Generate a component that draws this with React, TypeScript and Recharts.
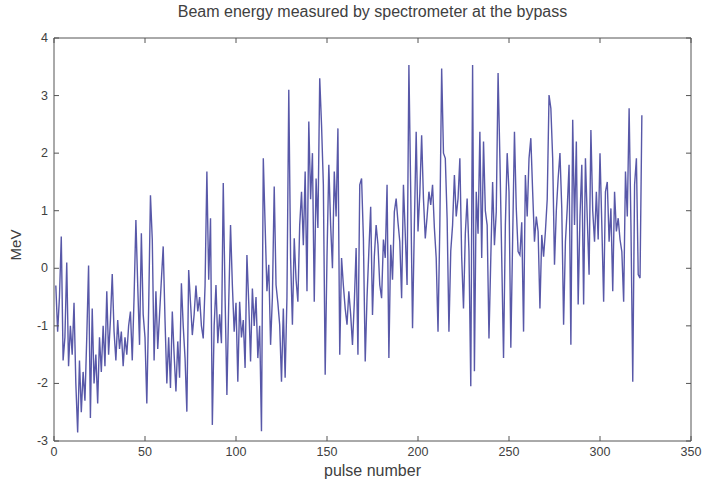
import React from 'react';
import { LineChart, Line, XAxis, YAxis, ReferenceArea } from 'recharts';

const energy: number[] = [
  -0.3, -1.1, -0.5, 0.55, -1.6, -1.2, 0.1, -1.7, -1.0, -1.5,
  -0.6, -2.0, -2.85, -1.6, -2.5, -1.8, -2.3, -1.2, 0.05, -2.6,
  -0.7, -2.0, -1.5, -2.35, -1.2, -1.8, -1.0, -1.7, -0.4, -1.5,
  -0.9, -0.1, -1.1, -1.6, -0.9, -1.4, -1.1, -1.7, -1.2, -1.5,
  -1.0, -0.75, -1.6, -0.5, 0.84, -0.3, -1.33, 0.61, -0.8, -1.2,
  -2.35, -0.7,
  1.27, 0.5, -1.6, -0.4, -1.4, -0.8, -0.2, 0.38, -0.9, -2.0,
  -1.2, -2.08, -0.75, -1.5, -2.14, -1.27, -1.9, -0.26, -1.0, -1.56,
  -2.49, -0.03, -0.6, -1.16, -0.8, -0.3, -0.75, -0.5, -1.0, -1.22,
  -0.3, 1.68, -0.2, 0.87, -2.72, -1.0, -0.29, -1.3, -0.8, -1.3,
  1.48, -0.5, -2.2, -0.6, 0.75, -0.29, -1.1, -0.6,
  -1.97, -0.58, -1.2, -0.9, -1.73, 0.23, -0.6, -1.62, -0.35, -1.0,
  -0.5, -1.56, -1.0, -2.83, 1.91, 0.75, -0.4, 0.06, -1.33, -0.5,
  1.42, -0.29, -0.6, -0.98, -1.97, -0.7, -1.9, -0.5, 3.1, 0.18,
  -0.98, 0.52, -0.2, -0.58, 0.75, 1.33, 0.4, 1.68, -0.4, 2.55,
  1.2, 2.0, -0.58, 1.56, 0.7, 3.3, 2.49, 1.45, -1.85, 0.2,
  1.8, 0.75, 0.0, 1.68, 0.9, 2.43, -1.5, 0.18, -0.3, -0.7,
  -0.98, -0.4, -0.8, -1.33, -0.6, 0.35, -1.5, 1.45, 1.56, 0.52,
  -1.62, -0.5, 0.3, 1.07, -0.81, 0.2, 0.75, 0.41, -0.29, -0.52,
  0.5, 0.18,
  1.45, -1.56, 0.41, -0.2, 0.98, 1.21, 0.8, 0.46, -0.52, 1.45,
  0.6, -0.29, 3.53, 1.33, -1.04, 0.75, 2.37, 0.64, 1.3, 2.31,
  1.21, 0.52, 0.9, 1.33, 1.1, 1.45, 0.7, 0.18, -1.1, 0.75,
  3.47, 2.0, 1.91, 0.87, -1.1, 0.3, 0.75, 1.62, 0.9, 1.21,
  1.91, 0.2, -0.7, 0.6, 1.21, 0.3, -2.05, 3.53,
  -1.79, 1.33, 0.6, 2.37, 0.18, 2.2, 1.0, 0.75, -1.22, 0.18,
  1.5, 0.4, 0.98, 3.39, 1.91, 0.18, -1.56, 0.75, 2.0, 1.33,
  -1.38, 0.5, 2.37, 1.04, 0.29, 0.23, 0.8, -1.1, 1.62, 0.9,
  1.91, 2.26, 1.33, 0.46, 0.9, 0.64, -0.7, 0.58, 0.2, 0.64,
  1.2, 3.01, 2.78, 1.91, 0.06, 1.0, 1.56, 2.0, 1.04, -0.98,
  0.46, 1.04, 1.8, -1.33, 2.58, 0.75, 2.2, -0.63, 0.9, 1.8,
  -0.63, 1.91, 0.87, -0.11, 2.4, 1.0, 0.46, 1.33, 0.5, 2.0,
  0.75, -0.58, 1.33, 1.5, 0.46, 1.04, -0.4, 1.33, 0.64, 0.87,
  0.5, 0.29, -0.58, 1.68, 0.9, 2.78, 0.75, -1.97, 1.45, 1.91,
  -0.11, -0.17, 2.66,
];

const xTicks = [0, 50, 100, 150, 200, 250, 300, 350];
const yTicks = [-3, -2, -1, 0, 1, 2, 3, 4];

const data = energy.map((v, i) => ({ pulse: i + 1, mev: v }));

const W = 704;
const H = 490;
const M = { top: 38, right: 13, left: 54, bottom: 49 };
const PL = M.left;
const PR = W - M.right;
const PT = M.top;
const PB = H - M.bottom;
const AXIS = '#555555';
const TEXT = '#404040';
const FONT = '"Liberation Sans", Arial, sans-serif';
const TL = 5;

const XTick = (props: any) => {
  const { x, payload } = props;
  return (
    <g>
      <line x1={x} x2={x} y1={PB} y2={PB - TL} stroke={AXIS} strokeWidth={1} />
      <line x1={x} x2={x} y1={PT} y2={PT + TL} stroke={AXIS} strokeWidth={1} />
      <text x={x} y={PB + 15} textAnchor="middle" fill={TEXT} fontSize={12.5} fontFamily={FONT}>
        {payload.value}
      </text>
    </g>
  );
};

const YTick = (props: any) => {
  const { y, payload } = props;
  return (
    <g>
      <line x1={PL} x2={PL + TL} y1={y} y2={y} stroke={AXIS} strokeWidth={1} />
      <line x1={PR} x2={PR - TL} y1={y} y2={y} stroke={AXIS} strokeWidth={1} />
      <text x={PL - 6} y={y + 4} textAnchor="end" fill={TEXT} fontSize={12.5} fontFamily={FONT}>
        {payload.value}
      </text>
    </g>
  );
};

export default function App() {
  return (
    <div style={{ position: 'absolute', left: 0, top: 0, width: W, height: H, background: '#fff' }}>
      <div
        style={{
          position: 'absolute', left: PL, width: PR - PL, top: 3, textAlign: 'center',
          fontFamily: FONT, fontSize: 16, color: TEXT, lineHeight: '18px',
        }}
      >
        Beam energy measured by spectrometer at the bypass
      </div>
      <div
        style={{
          position: 'absolute', left: PL, width: PR - PL, top: 462, textAlign: 'center',
          fontFamily: FONT, fontSize: 16, color: TEXT, lineHeight: '18px',
        }}
      >
        pulse number
      </div>
      <div
        style={{
          position: 'absolute', left: 16 - 30, top: 245 - 9, width: 60, textAlign: 'center',
          fontFamily: FONT, fontSize: 15, color: TEXT, lineHeight: '18px',
          transform: 'rotate(-90deg)',
        }}
      >
        MeV
      </div>
      <LineChart width={W} height={H} data={data} margin={{ top: M.top, right: M.right, left: 0, bottom: 0 }}>
        <XAxis
          dataKey="pulse"
          type="number"
          domain={[0, 350]}
          ticks={xTicks}
          height={M.bottom}
          tickLine={false}
          axisLine={false}
          tick={<XTick />}
          interval={0}
        />
        <YAxis
          type="number"
          domain={[-3, 4]}
          ticks={yTicks}
          width={M.left}
          tickLine={false}
          axisLine={false}
          tick={<YTick />}
          interval={0}
        />
        <Line
          type="linear"
          dataKey="mev"
          stroke="#5858a8"
          strokeWidth={1.4}
          dot={false}
          isAnimationActive={false}
        />
        <ReferenceArea x1={0} x2={350} y1={-3} y2={4} fill="none" stroke={AXIS} strokeWidth={1} />
      </LineChart>
    </div>
  );
}
